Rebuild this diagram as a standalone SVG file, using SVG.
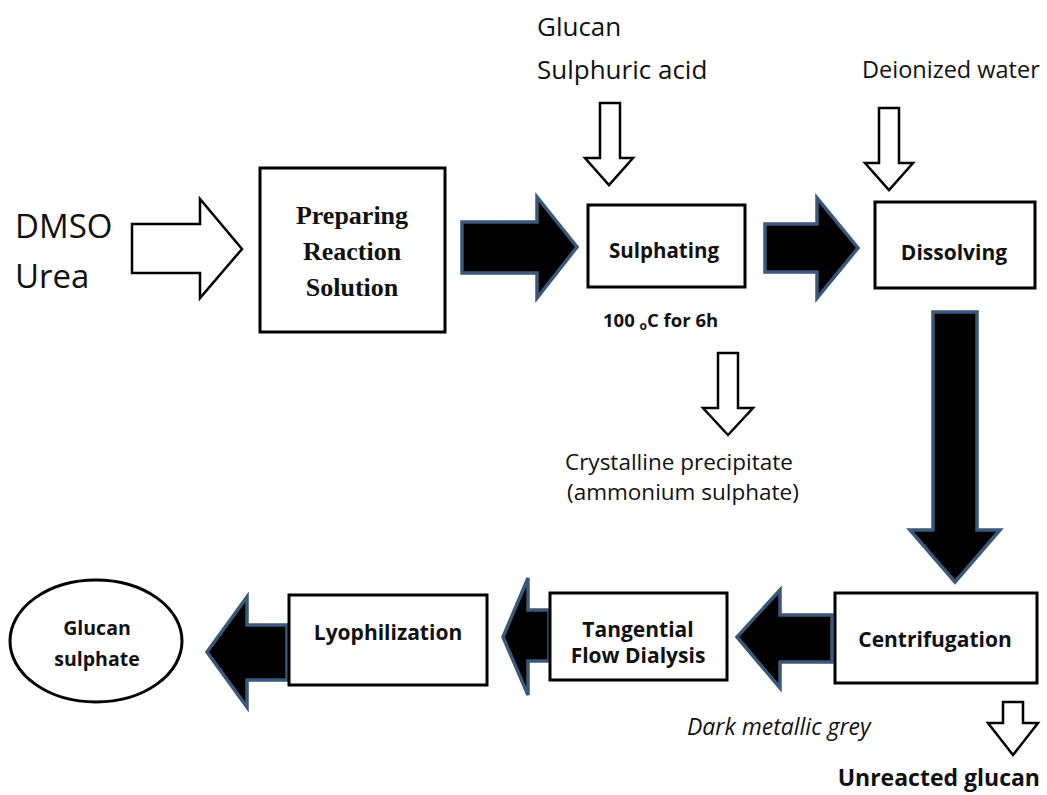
<svg xmlns="http://www.w3.org/2000/svg" width="1047" height="795" viewBox="0 0 1047 795">
<style>
  .box{fill:#fff;stroke:#000;stroke-width:3}
  .blk{fill:#000;stroke:#3a587a;stroke-width:3.5;stroke-linejoin:miter}
  .wht{fill:#fff;stroke:#000;stroke-width:2.5;stroke-linejoin:miter}
  .t{font-family:"Open Sans","Liberation Sans",sans-serif;fill:#111}
  .b{font-family:"Open Sans","Liberation Sans",sans-serif;font-weight:bold;fill:#111}
  .s{font-family:"Liberation Serif","Times New Roman",serif;font-weight:bold;fill:#111}
</style>
<rect width="1047" height="795" fill="#fff"/>
<g id="connectors">
  <path class="blk" d="M462,222 H537 V197 L577,247 L537,298 V273 H462 Z"/>
  <path class="blk" d="M765,224 H817 V198 L858,248 L817,298 V272 H765 Z"/>
  <path class="blk" d="M933,312 H977 V530 H1000 L955,582 L910,530 H933 Z"/>
  <path class="blk" d="M832,615 H780 V590 L737,637 L780,688 V662 H832 Z"/>
  <path class="blk" d="M549,610 H528 V578 L503,637 L528,695 V661 H549 Z"/>
  <path class="blk" d="M287,625 H247 V597 L207,652 L247,707 V680 H287 Z"/>
  <path class="wht" d="M132,224 H200 V199 L242,249 L200,298 V273 H132 Z"/>
  <path class="wht" d="M600,103 H620 V158 H633 L609,185 L585,158 H600 Z"/>
  <path class="wht" d="M879,108 H899 V163 H913 L889,190 L865,163 H879 Z"/>
  <path class="wht" d="M718,353 H738 V408 H753 L728,435 L703,408 H718 Z"/>
  <path class="wht" d="M1003,702 H1023 V723 H1038 L1013,755 L988,723 H1003 Z"/>
</g>
<g id="inputs">
  <text class="t" x="15" y="238" font-size="33">DMSO</text>
  <text class="t" x="15" y="288" font-size="33">Urea</text>
  <text class="t" x="537" y="36" font-size="26">Glucan</text>
  <text class="t" x="537" y="79" font-size="26">Sulphuric acid</text>
  <text class="t" x="862" y="78" font-size="23.5">Deionized water</text>
</g>
<g id="preparing">
  <rect class="box" x="260" y="168" width="185" height="164" stroke-width="3.5"/>
  <text class="s" x="352" y="224" font-size="26" text-anchor="middle">Preparing</text>
  <text class="s" x="352" y="260" font-size="26" text-anchor="middle">Reaction</text>
  <text class="s" x="352" y="296" font-size="26" text-anchor="middle">Solution</text>
</g>
<g id="sulphating">
  <rect class="box" x="588" y="205" width="157" height="82" stroke-width="2.5"/>
  <text class="b" x="664" y="258" font-size="20.5" text-anchor="middle">Sulphating</text>
  <text class="b" x="603" y="327" font-size="18.5">100 <tspan font-size="12" dy="3">o</tspan><tspan dy="-3">C for 6h</tspan></text>
</g>
<g id="dissolving">
  <rect class="box" x="875" y="202" width="160" height="86"/>
  <text class="b" x="954" y="260" font-size="21" text-anchor="middle">Dissolving</text>
</g>
<g id="precipitate">
  <text class="t" x="565" y="470" font-size="22.5">Crystalline precipitate</text>
  <text class="t" x="567" y="500" font-size="22.5">(ammonium sulphate)</text>
</g>
<g id="centrifugation">
  <rect class="box" x="835" y="593" width="202" height="90"/>
  <text class="b" x="935" y="647" font-size="21" text-anchor="middle">Centrifugation</text>
</g>
<g id="tangential">
  <rect class="box" x="550" y="593" width="177" height="87"/>
  <text class="b" x="638" y="637" font-size="21" text-anchor="middle">Tangential</text>
  <text class="b" x="638" y="663" font-size="21" text-anchor="middle">Flow Dialysis</text>
</g>
<g id="lyophilization">
  <rect class="box" x="289" y="595" width="198" height="90"/>
  <text class="b" x="388" y="640" font-size="21" text-anchor="middle">Lyophilization</text>
</g>
<g id="glucan-sulphate">
  <ellipse cx="96" cy="641" rx="86" ry="61" fill="#fff" stroke="#000" stroke-width="3"/>
  <text class="b" x="97" y="635" font-size="19.5" text-anchor="middle">Glucan</text>
  <text class="b" x="97" y="666" font-size="19.5" text-anchor="middle">sulphate</text>
</g>
<g id="notes">
  <text class="t" x="687" y="735" font-size="23" font-style="italic">Dark metallic grey</text>
  <text class="b" x="1040" y="786" font-size="23" text-anchor="end">Unreacted glucan</text>
</g>
</svg>
